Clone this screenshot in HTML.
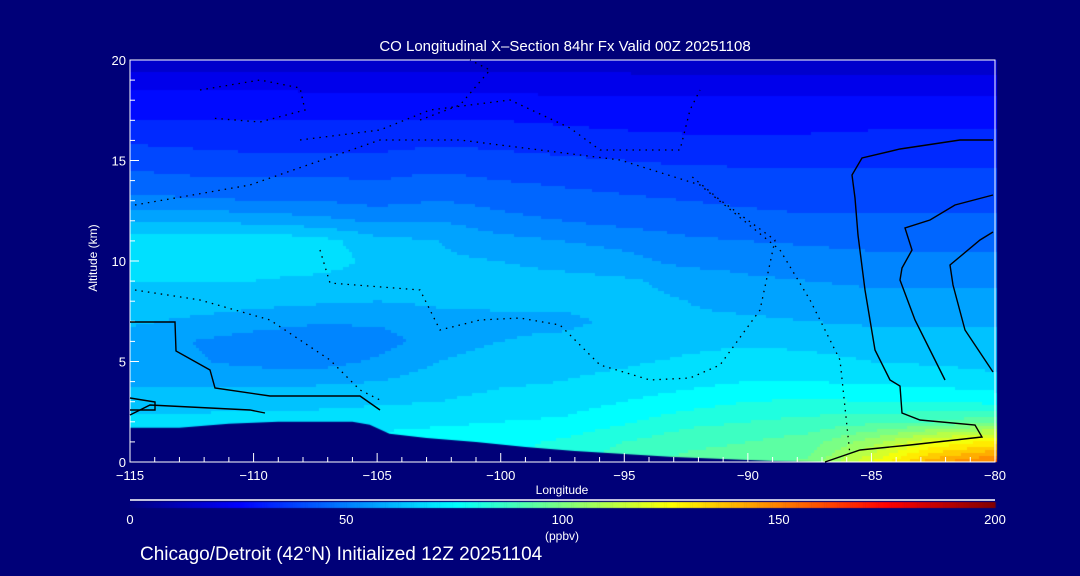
<!DOCTYPE html>
<html><head><meta charset="utf-8"><style>
html,body{margin:0;padding:0;background:#000078;width:1080px;height:576px;overflow:hidden}
#wrap{position:relative;width:1080px;height:576px}
canvas,svg{position:absolute;left:0;top:0}
</style></head><body><div id="wrap">
<canvas id="cv" width="1080" height="576"></canvas>
<svg id="sv" width="1080" height="576" font-family="Liberation Sans, sans-serif" fill="#fff">
<text x="565" y="51" text-anchor="middle" font-size="15">CO Longitudinal X–Section 84hr  Fx Valid 00Z 20251108</text>
<text transform="translate(97,258) rotate(-90)" text-anchor="middle" font-size="12">Altitude (km)</text>
<text x="562" y="494" text-anchor="middle" font-size="12">Longitude</text>
<text x="562" y="540" text-anchor="middle" font-size="12">(ppbv)</text>
<text x="140" y="560" font-size="19">Chicago/Detroit (42°N) Initialized 12Z 20251104</text>
<g id="axes"></g>
</svg></div>
<script>
const lons=[-115,-112.5,-110,-107.5,-105,-102.5,-100,-97.5,-95,-92.5,-90,-87.5,-85,-82.5,-80];
const alts=[20,19,18,17,16,15,14,13,12,11,10,9,8,7,6,5,4,3,2,1,0];
const coValues=[
[14,14,14,14,14,14,14,14,14,13,13,13,13,13,13],
[21,21,21,21,21,21,21,20,20,20,20,20,20,20,20],
[27,27,27,26,26,26,26,25,25,25,25,25,25,25,25],
[30,30,30,30,30,30,30,29,28,28,28,28,28,28,28],
[35,34,33,33,33,35,34,33,32,31,31,31,32,32,32],
[40,39,38,38,38,39,38,37,36,35,35,35,35,35,35],
[44,43,43,43,42,44,42,41,40,39,38,38,38,38,38],
[50,49,48,48,46,48,46,44,43,42,41,40,40,40,40],
[60,60,58,56,53,54,50,48,46,45,44,43,43,43,43],
[70,70,70,69,62,60,56,54,52,49,48,47,46,46,46],
[70,70,70,70,64,61,60,58,56,52,52,51,50,50,50],
[66,66,66,64,63,63,62,62,61,58,55,54,53,53,53],
[63,63,62,61,60,61,61,61,62,60,58,57,56,56,56],
[61,59,57,55,55,58,59,59,61,61,61,60,59,59,59],
[57,54,51,49,51,57,60,61,62,64,65,64,63,62,62],
[56,55,52,51,55,60,63,64,65,67,69,68,66,65,64],
[59,59,59,59,60,63,65,66,68,70,72,72,71,70,68],
[63,63,64,64,65,66,68,69,72,75,78,79,78,78,76],
[68,68,69,69,70,71,72,73,77,82,84,86,88,90,95],
[70,70,72,72,74,75,76,79,84,88,90,93,105,120,128],
[70,70,72,72,74,75,77,82,88,92,94,97,120,142,152]];
const terrainLon=[-115,-113,-111,-109,-107,-106,-105.3,-104.5,-103,-101,-99,-97,-95,-93,-91,-89,-87,-80];
const terrainAlt=[1.7,1.7,1.9,2.0,2.0,2.0,1.85,1.4,1.2,1.0,0.75,0.55,0.4,0.25,0.15,0.05,0,0];
const xTicks=[-115,-110,-105,-100,-95,-90,-85,-80];
const yTicks=[0,5,10,15,20];
const cbTicks=[0,50,100,150,200];

const X0=130,X1=995,Y0=462,Y1=60;
const xs=l=>X0+(l+115)/35*(X1-X0);
const ys=a=>Y0-a/20*(Y0-Y1);
const cx=v=>X0+v/200*(X1-X0);
function jet(v){let t=Math.max(0,Math.min(1,v/200));
 const s=[[0,0,0,128],[0.125,0,0,255],[0.375,0,255,255],[0.625,255,255,0],[0.875,255,0,0],[1,128,0,0]];
 for(let i=1;i<s.length;i++)if(t<=s[i][0]){const a=s[i-1],b=s[i],f=(t-a[0])/(b[0]-a[0]);
  return `rgb(${Math.round(a[1]+f*(b[1]-a[1]))},${Math.round(a[2]+f*(b[2]-a[2]))},${Math.round(a[3]+f*(b[3]-a[3]))})`;}
 return 'rgb(128,0,0)';}
function val(lon,alt){let fi=(lon+115)/2.5, fj=(20-alt);
 let i=Math.min(13,Math.floor(fi)), j=Math.min(19,Math.floor(fj)); let u=fi-i,w=fj-j;
 return coValues[j][i]*(1-u)*(1-w)+coValues[j][i+1]*u*(1-w)+coValues[j+1][i]*(1-u)*w+coValues[j+1][i+1]*u*w;}
const ctx=document.getElementById('cv').getContext('2d');
for(let px=X0;px<X1;px+=3){for(let py=Y1;py<Y0;py+=3){
 const lon=-115+(px+1.5-X0)/(X1-X0)*35, alt=(Y0-py-1.5)/(Y0-Y1)*20;
 const q=Math.floor(val(lon,alt)/6)*6+3;
 ctx.fillStyle=jet(q);ctx.fillRect(px,py,3,3);}}
ctx.fillStyle='#000078';ctx.beginPath();ctx.moveTo(xs(terrainLon[0]),Y0);
terrainLon.forEach((l,k)=>ctx.lineTo(xs(l),ys(terrainAlt[k])));ctx.lineTo(X1,Y0);ctx.fill();
for(let v=0;v<200;v+=0.5){ctx.fillStyle=jet(v);ctx.fillRect(cx(v),502,(X1-X0)/400+0.6,6);}
const NS='http://www.w3.org/2000/svg';const g=document.getElementById('axes');
function mk(t,a){const e=document.createElementNS(NS,t);for(const k in a)e.setAttribute(k,a[k]);g.appendChild(e);return e;}
let e=mk('rect',{x:X0,y:Y1,width:X1-X0,height:Y0-Y1,fill:'none',stroke:'#fff','stroke-width':1});


e=mk('line',{x1:X0,y1:500,x2:X1,y2:500,stroke:'#fff','stroke-width':1.5});


for(let l=-115;l<=-80;l++){const maj=l%5===0;
 e=mk('line',{x1:xs(l),y1:Y0,x2:xs(l),y2:Y0-(maj?9:5),stroke:'#fff'});
 
 }
for(let a=0;a<=20;a++){const maj=a%5===0;
 e=mk('line',{x1:X0,y1:ys(a),x2:X0+(maj?9:5),y2:ys(a),stroke:'#fff'});
 
 }
xTicks.forEach(l=>{e=mk('text',{x:xs(l),y:Y0+18,'text-anchor':'middle','font-size':13});e.textContent=String(l).replace('-','−');
 
 });
yTicks.forEach(a=>{e=mk('text',{x:X0-4,y:ys(a)+5,'text-anchor':'end','font-size':13});e.textContent=a;
 
 });
cbTicks.forEach(v=>{e=mk('text',{x:cx(v),y:524,'text-anchor':'middle','font-size':13});e.textContent=v;
 
 });
const contours=[
 [[993,140],[960,140],[900,149],[862,158],[852,175],[855,198],[858,235],[865,290],[875,350],[890,380],[900,386],[902,413],[920,420],[975,425],[982,437],[910,445],[860,450],[825,462]],
 [[993,195],[955,205],[930,220],[905,228],[912,250],[902,268],[900,280],[915,320],[935,360],[945,380]],
 [[993,232],[980,240],[950,265],[953,285],[965,330],[993,372]],
 [[130,322],[175,322],[176,351],[210,370],[215,388],[270,396],[360,396],[380,410]],
 [[130,415],[150,405],[250,410],[265,413]],
 [[130,398],[155,402],[155,410],[130,410]]];
contours.forEach(c=>{e=mk('polyline',{points:c.map(p=>p.join(',')).join(' '),fill:'none',stroke:'#000','stroke-width':1.4});
 
 });
const dotted=[
 [[200,90],[260,80],[300,88],[305,110],[260,122],[210,118]],
 [[300,140],[380,130],[430,110],[510,100],[570,128],[600,150],[680,150],[690,110],[700,90]],
 [[135,205],[250,185],[380,140],[460,140],[540,150],[620,160],[700,185],[780,250],[810,300],[840,360],[850,455]],
 [[320,250],[330,283],[420,290],[440,330],[480,320],[520,318],[560,325],[575,340],[600,365],[650,380],[690,378],[720,365],[760,310],[775,240],[720,200],[690,175]],
 [[135,290],[200,300],[270,320],[330,360],[360,390],[380,400]],
 [[420,120],[460,105],[490,70],[470,60]]];
dotted.forEach(c=>{e=mk('polyline',{points:c.map(p=>p.join(',')).join(' '),fill:'none',stroke:'#000','stroke-width':1.3,'stroke-dasharray':'1.5 5'});
 
 });
</script></body></html>
